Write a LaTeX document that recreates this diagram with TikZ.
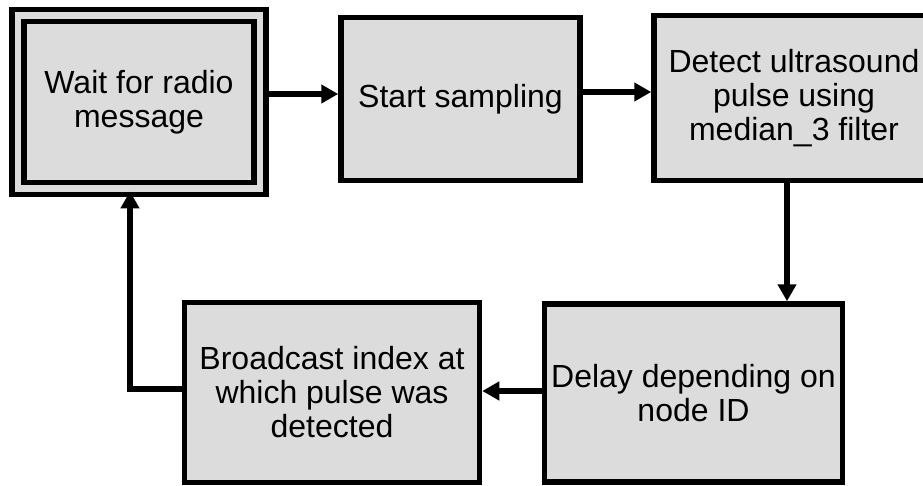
\documentclass[tikz,border=0pt]{standalone}
\usepackage{fontspec}
\setmainfont{Liberation Sans}
\usetikzlibrary{arrows.meta}
\definecolor{boxgray}{RGB}{220,220,220}

\begin{document}
\begin{tikzpicture}
[
	block/.style={rectangle,draw,line width=5.5pt,fill=boxgray,align=center,inner sep=0pt,font=\fontsize{32}{34}\selectfont},
	flow/.style={line width=6pt,-{Triangle[length=17pt,width=18pt]}},
	x=1pt,
	y=-1pt
]

	\useasboundingbox (0,0) rectangle (923,486);

	% top row
	\node[block,double=boxgray,line width=5.7pt,double distance=6.5pt,minimum width=242pt,minimum height=173pt] at (139,102) (wait) {Wait for radio\\message};
	\node[block,minimum width=239pt,minimum height=163pt] at (460.5,99) (start) {Start sampling};
	\node[block,minimum width=280pt,minimum height=165pt] at (794,98) (detect) {Detect ultrasound\\pulse using\\median\_3 filter};

	% bottom row
	\node[block,minimum width=298pt,minimum height=178pt] at (693.5,393) (delay) {Delay depending on\\node ID};
	\node[block,minimum width=295pt,minimum height=180pt] at (332,392.5) (bcast) {Broadcast index at\\which pulse was\\detected};

	% arrows
	\draw[flow] ([yshift=8pt]wait.east) -- ([yshift=5pt]start.west);
	\draw[flow] ([yshift=7pt]start.east) -- ([yshift=6pt]detect.west);
	\draw[flow] ([xshift=-7pt]detect.south) -- ([xshift=-7pt]detect.south |- delay.north);
	\draw[flow] ([yshift=2pt]delay.west) -- ([yshift=2pt]delay.west -| bcast.east);

	% back to the start
	\draw[flow] ([yshift=4pt]bcast.west) -| ([xshift=-9pt]wait.south);

\end{tikzpicture}
\end{document}
